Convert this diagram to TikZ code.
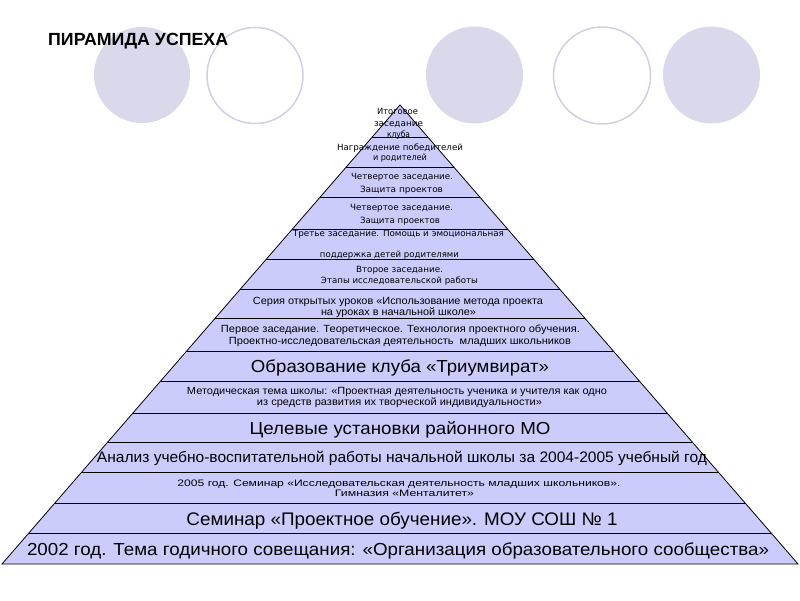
\documentclass[tikz,border=0pt]{standalone}
\usepackage{fontspec}
\setmainfont{Liberation Sans}
\newfontfamily\dvs{DejaVu Sans}
\usepackage{graphicx}
\definecolor{pyr}{RGB}{204,204,252}
\definecolor{circfill}{RGB}{217,217,235}
\definecolor{circline}{RGB}{208,208,226}
\newcommand\fitw[2]{\resizebox{#1pt}{\height}{#2}}
\begin{document}
\begin{tikzpicture}[x=1pt,y=-1pt,
  lbl/.style={inner sep=0pt, anchor=base},
  sm/.style={lbl, font=\dvs\fontsize{8.6}{9}\selectfont},
  ss/.style={lbl, font=\fontsize{10.4}{11}\selectfont},
  xs/.style={lbl, font=\fontsize{9.4}{10}\selectfont},
  md/.style={lbl, font=\fontsize{15.2}{16}\selectfont},
  lg/.style={lbl, font=\fontsize{17.4}{18}\selectfont},
  band/.style={draw=black, line width=0.8pt},
  cfill/.style={fill=circfill},
  cline/.style={draw=circline, line width=1.5pt}]
\useasboundingbox (0,0) rectangle (800,600);
% decorative circles
\fill[cfill] (142,75) circle (48pt);
\draw[cline] (255,75.5) circle (48pt);
\fill[cfill] (474.5,75) circle (48.5pt);
\draw[cline] (602,75.5) circle (48.5pt);
\fill[cfill] (711.5,75) circle (48.5pt);
% title
\node[lbl, anchor=base west, font=\bfseries\fontsize{17.6}{18}\selectfont] (title) at (48,45.5) {\fitw{180}{ПИРАМИДА УСПЕХА}};
% pyramid
\coordinate (apex) at (400,105);
\coordinate (bl) at (2,564);
\coordinate (br) at (798,564);
\filldraw[band, fill=pyr] (apex) -- (br) -- (bl) -- cycle;
\foreach \yy in {137,167,197,229,259,289,318,351,381,413,442,472,503,533} {
  \pgfmathsetmacro\ww{0.867102*(\yy-105)}
  \draw[band] ({400-\ww},\yy) -- ({400+\ww},\yy);
}
% band 1
\node[sm] (t1a) at (397.5,114.1) {\fitw{41}{Итоговое}};
\node[sm] (t1b) at (398.5,126.1) {\fitw{49}{заседание}};
\node[sm] (t1c) at (398.5,137.1) {\fitw{23}{клуба}};
% band 2
\node[sm] (t2a) at (400,150.8) {\fitw{126}{Награждение победителей}};
\node[sm] (t2b) at (400,160.8) {\fitw{54}{и родителей}};
% band 3
\node[sm] (t3a) at (402,179.8) {\fitw{102}{Четвертое заседание.}};
\node[sm] (t3b) at (401.5,192.1) {\fitw{83}{Защита проектов}};
% band 4
\node[sm] (t4a) at (401.5,210.4) {\fitw{103}{Четвертое заседание.}};
\node[sm] (t4b) at (400,223.1) {\fitw{80}{Защита проектов}};
% band 5
\node[sm] (t5a) at (398.5,236.4) {\fitw{211}{Третье заседание. Помощь и эмоциональная}};
\node[sm] (t5b) at (389.5,257.1) {\fitw{139}{поддержка детей родителями}};
% band 6
\node[sm] (t6a) at (399.5,272.4) {\fitw{87}{Второе заседание.}};
\node[sm] (t6b) at (399.5,283.4) {\fitw{157}{Этапы исследовательской работы}};
% band 7
\node[ss] (t7a) at (398,304.5) {\fitw{290}{Серия открытых уроков «Использование метода проекта}};
\node[ss] (t7b) at (398.5,315.5) {\fitw{155}{на уроках в начальной школе»}};
% band 8
\node[ss] (t8a) at (400.5,332.7) {\fitw{359}{Первое заседание. Теоретическое. Технология проектного обучения.}};
\node[ss] (t8b) at (400,344.4) {\fitw{342}{Проектно-исследовательская деятельность~ младших школьников}};
% band 9
\node[lg] (t9) at (400,372) {\fitw{298}{Образование клуба «Триумвират»}};
% band 10
\node[ss] (t10a) at (397,394.5) {\fitw{420}{Методическая тема школы: «Проектная деятельность ученика и учителя как одно}};
\node[ss] (t10b) at (399.5,405.5) {\fitw{285}{из средств развития их творческой индивидуальности»}};
% band 11
\node[lg] (t11) at (400,434) {\fitw{301}{Целевые установки районного МО}};
% band 12
\node[md] (t12) at (402,462.7) {\fitw{610}{Анализ учебно-воспитательной работы начальной школы за 2004-2005 учебный год}};
% band 13
\node[xs] (t13a) at (399,486.7) {\fitw{443}{2005 год. Семинар «Исследовательская деятельность младших школьников».}};
\node[xs] (t13b) at (404.5,496.1) {\fitw{139}{Гимназия «Менталитет»}};
% band 14
\node[lg, font=\fontsize{18.2}{19}\selectfont] (t14) at (402,525.5) {\fitw{431}{Семинар «Проектное обучение». МОУ СОШ № 1}};
% band 15
\node[lg] (t15) at (398,555.5) {\fitw{742}{2002 год. Тема годичного совещания: «Организация образовательного сообщества»}};
\end{tikzpicture}
\end{document}
